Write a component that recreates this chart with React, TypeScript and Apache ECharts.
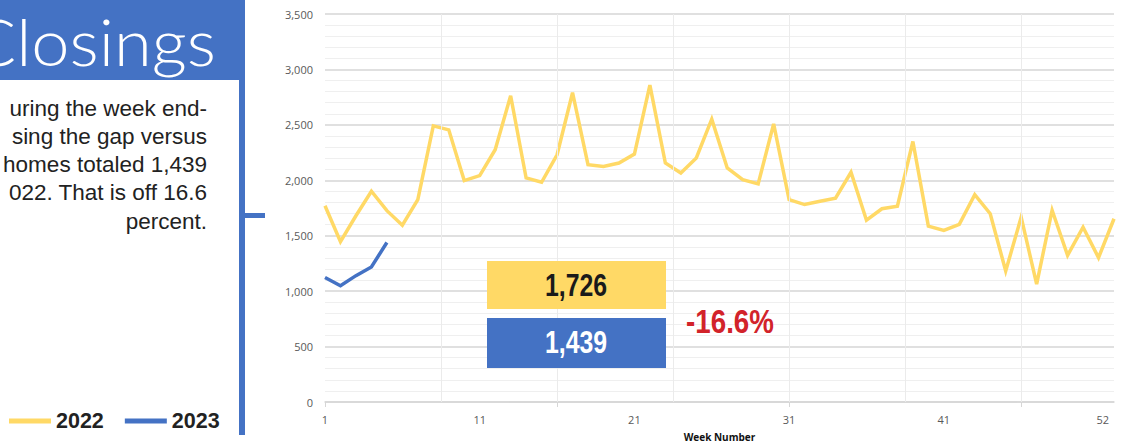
import React, { useEffect, useRef } from "react";
import * as echarts from "echarts";

const weeks = [1, 2, 3, 4, 5, 6, 7, 8, 9, 10, 11, 12, 13, 14, 15, 16, 17, 18, 19, 20, 21, 22, 23, 24, 25, 26, 27, 28, 29, 30, 31, 32, 33, 34, 35, 36, 37, 38, 39, 40, 41, 42, 43, 44, 45, 46, 47, 48, 49, 50, 51, 52];
const closings2022 = [1770, 1446, 1680, 1901, 1726, 1595, 1826, 2491, 2455, 1997, 2042, 2276, 2763, 2021, 1982, 2230, 2790, 2141, 2125, 2156, 2237, 2859, 2156, 2066, 2201, 2551, 2111, 2006, 1967, 2509, 1826, 1781, 1811, 1838, 2072, 1640, 1743, 1766, 2350, 1586, 1548, 1602, 1871, 1698, 1182, 1667, 1063, 1730, 1323, 1577, 1302, 1653];
const closings2023 = [1123, 1048, 1140, 1218, 1439];
const xLabelWeeks = [1, 11, 21, 31, 41, 52];
const xTickWeeks = [1, 16, 31, 46];
const xGridWeeks = [8.5, 16, 23.5, 31, 38.5, 46];
const seriesNames = ["2022", "2023"];
const title = "Closings";
const bodyLines = ["uring the week end-", "sing the gap versus", "homes totaled 1,439", "022. That is off 16.6", "percent."];
const value2022 = "1,726";
const value2023 = "1,439";
const changeText = "-16.6%";

const YELLOW = "#FFD966";
const BLUE = "#4472C4";

export default function App() {
  const ref = useRef<HTMLDivElement>(null);
  useEffect(() => {
    if (!ref.current) return;
    const chart = echarts.init(ref.current, null, { renderer: "svg" });
    const pairs = (arr: number[]) => arr.map((v, i) => [weeks[i], v]);
    const bodyText = bodyLines.map((t, i) => ({
      type: "text",
      x: 207,
      y: 108 + i * 28.3,
      style: {
        text: t,
        font: '22.5px "Liberation Sans", Arial, sans-serif',
        fill: "#222",
        align: "right",
        textAlign: "right",
        verticalAlign: "middle",
        textVerticalAlign: "middle",
      },
    }));
    chart.setOption({
      animation: false,
      backgroundColor: "#fff",
      grid: { left: 325, right: 7, top: 14, bottom: 44 },
      legend: {
        data: seriesNames,
        left: 4,
        top: 405,
        icon: "rect",
        itemWidth: 42,
        itemHeight: 5,
        itemGap: 21,
        textStyle: { fontFamily: '"Liberation Sans", Arial, sans-serif', fontWeight: "bold", fontSize: 21.5, color: "#222" },
      },
      xAxis: {
        type: "value",
        min: 1,
        max: 52,
        name: "Week Number",
        nameLocation: "middle",
        nameGap: 30,
        nameTextStyle: { fontFamily: '"Open Sans", sans-serif', fontWeight: "bold", fontSize: 10, color: "#111" },
        axisLine: { show: true, lineStyle: { color: "#d6d6d6", width: 1.5 } },
        axisTick: { show: true, customValues: xTickWeeks, length: 5, lineStyle: { color: "#d6d6d6" } },
        axisLabel: {
          customValues: xLabelWeeks,
          margin: 12,
          fontFamily: '"Open Sans", sans-serif',
          fontSize: 11,
          color: "#595959",
          formatter: (v: number) => (v === 52 ? "{r|52}" : String(v)),
          rich: { r: { padding: [0, 5, 0, 0], fontFamily: '"Open Sans", sans-serif', fontSize: 11, color: "#595959" } },
          alignMaxLabel: "right",
        },
        splitLine: { show: false },
      },
      yAxis: {
        type: "value",
        min: 0,
        max: 3500,
        interval: 500,
        axisLine: { show: false },
        axisTick: { show: false },
        axisLabel: {
          margin: 12,
          fontFamily: '"Open Sans", sans-serif',
          fontSize: 11,
          color: "#595959",
          formatter: (v: number) => v.toLocaleString("en-US"),
        },
        splitLine: { show: true, lineStyle: { color: "#d6d6d6", width: 1.5 } },
        minorTick: { show: false, splitNumber: 5 },
        minorSplitLine: { show: true, lineStyle: { color: "#efefef", width: 1 } },
      },
      series: [
        {
          name: "grid",
          type: "line",
          data: [],
          z: 1,
          silent: true,
          markLine: {
            silent: true,
            symbol: "none",
            label: { show: false },
            lineStyle: { color: "#ebebeb", width: 1, type: "solid" },
            data: xGridWeeks.map((w) => ({ xAxis: w })),
          },
        },
        {
          name: seriesNames[0],
          type: "line",
          data: pairs(closings2022),
          showSymbol: false,
          color: YELLOW,
          lineStyle: { color: YELLOW, width: 3.5, join: "miter" },
          z: 3,
        },
        {
          name: seriesNames[1],
          type: "line",
          data: pairs(closings2023),
          showSymbol: false,
          color: BLUE,
          lineStyle: { color: BLUE, width: 3.5, join: "miter" },
          z: 3,
        },
      ],
      graphic: [
        { type: "rect", shape: { x: 0, y: 0, width: 245, height: 80 }, style: { fill: BLUE } },
        { type: "rect", shape: { x: 239, y: 0, width: 6, height: 435 }, style: { fill: BLUE } },
        { type: "rect", shape: { x: 239, y: 213, width: 26, height: 5 }, style: { fill: BLUE } },
        {
          type: "text",
          x: 216,
          y: 41,
          scaleX: 1.04,
          style: {
            text: title,
            font: '300 66px Lato, Roboto, "Liberation Sans", sans-serif',
            fill: "#fff",
            align: "right",
            textAlign: "right",
            verticalAlign: "middle",
            textVerticalAlign: "middle",
          },
        },
        ...bodyText,
        { type: "rect", z: 10, shape: { x: 487, y: 261, width: 179, height: 48 }, style: { fill: YELLOW } },
        { type: "rect", z: 10, shape: { x: 487, y: 318, width: 179, height: 50 }, style: { fill: BLUE } },
        {
          type: "text",
          z: 11,
          x: 576,
          y: 286,
          scaleX: 0.8,
          style: {
            text: value2022,
            font: 'bold 31px "Liberation Sans", Arial, sans-serif',
            fill: "#1a1a1a",
            align: "center",
            textAlign: "center",
            verticalAlign: "middle",
            textVerticalAlign: "middle",
          },
        },
        {
          type: "text",
          z: 11,
          x: 576,
          y: 343,
          scaleX: 0.8,
          style: {
            text: value2023,
            font: 'bold 31px "Liberation Sans", Arial, sans-serif',
            fill: "#fff",
            align: "center",
            textAlign: "center",
            verticalAlign: "middle",
            textVerticalAlign: "middle",
          },
        },
        {
          type: "text",
          z: 11,
          x: 730,
          y: 321,
          scaleX: 0.84,
          style: {
            text: changeText,
            font: 'bold 33px "Liberation Sans", Arial, sans-serif',
            fill: "#D2232A",
            align: "center",
            textAlign: "center",
            verticalAlign: "middle",
            textVerticalAlign: "middle",
          },
        },
      ],
    });
    return () => chart.dispose();
  }, []);
  return <div ref={ref} style={{ position: "absolute", left: 0, top: 0, width: 1121, height: 447 }} />;
}
